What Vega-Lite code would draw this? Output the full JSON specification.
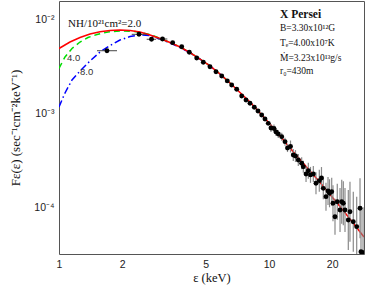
{
  "$schema": "https://vega.github.io/schema/vega-lite/v6.json",
  "width": 305,
  "height": 253,
  "autosize": {"type": "none"},
  "padding": {"left": 59, "top": 1, "right": 3, "bottom": 37},
  "background": "white",
  "config": {
    "view": {"stroke": "#555", "strokeWidth": 1},
    "axis": {"domain": false, "grid": false, "tickColor": "#555", "tickWidth": 1}
  },
  "datasets": {
    "red": [
      {"e": 1.0, "f": 0.00489}, {"e": 1.128, "f": 0.00573}, {"e": 1.259, "f": 0.0064}, {"e": 1.405, "f": 0.00698},
      {"e": 1.568, "f": 0.00736}, {"e": 1.749, "f": 0.0076}, {"e": 1.952, "f": 0.00769}, {"e": 2.179, "f": 0.0076},
      {"e": 2.43, "f": 0.00733}, {"e": 2.713, "f": 0.00681}, {"e": 3.027, "f": 0.00625}, {"e": 3.378, "f": 0.00566},
      {"e": 3.77, "f": 0.00507}, {"e": 4.206, "f": 0.00443}, {"e": 4.693, "f": 0.00378}, {"e": 5.236, "f": 0.00319},
      {"e": 5.843, "f": 0.00262}, {"e": 6.521, "f": 0.0021}, {"e": 7.275, "f": 0.001665}, {"e": 8.12, "f": 0.001319},
      {"e": 9.06, "f": 0.001007}, {"e": 10.11, "f": 0.000769}, {"e": 11.28, "f": 0.000573}, {"e": 12.59, "f": 0.000427},
      {"e": 14.05, "f": 0.000322}, {"e": 15.68, "f": 0.000243}, {"e": 17.5, "f": 0.0001835}, {"e": 19.52, "f": 0.0001368},
      {"e": 21.79, "f": 0.000102}, {"e": 24.3, "f": 0.0000751}, {"e": 28.34, "f": 0.0000483}
    ],
    "green": [
      {"e": 1.0, "f": 0.00301}, {"e": 1.068, "f": 0.00397}, {"e": 1.153, "f": 0.00489}, {"e": 1.259, "f": 0.00573},
      {"e": 1.374, "f": 0.0064}, {"e": 1.517, "f": 0.00689}, {"e": 1.711, "f": 0.00733}, {"e": 1.952, "f": 0.00751},
      {"e": 2.301, "f": 0.00742}, {"e": 2.713, "f": 0.00689}, {"e": 3.027, "f": 0.00625}, {"e": 3.378, "f": 0.00566},
      {"e": 3.77, "f": 0.00507}, {"e": 4.206, "f": 0.00443}, {"e": 4.693, "f": 0.00378}, {"e": 5.236, "f": 0.00319},
      {"e": 5.843, "f": 0.00262}, {"e": 6.521, "f": 0.0021}
    ],
    "blue": [
      {"e": 1.0, "f": 0.001167}, {"e": 1.068, "f": 0.001644}, {"e": 1.153, "f": 0.00226}, {"e": 1.259, "f": 0.00282},
      {"e": 1.405, "f": 0.0036}, {"e": 1.568, "f": 0.00449}, {"e": 1.749, "f": 0.00526}, {"e": 1.952, "f": 0.00602},
      {"e": 2.179, "f": 0.00656}, {"e": 2.43, "f": 0.00681}, {"e": 2.713, "f": 0.00672}, {"e": 3.027, "f": 0.00617},
      {"e": 3.378, "f": 0.0056}, {"e": 3.77, "f": 0.00501}, {"e": 4.206, "f": 0.0044}, {"e": 4.693, "f": 0.00376},
      {"e": 5.236, "f": 0.00318}, {"e": 5.843, "f": 0.00262}, {"e": 6.521, "f": 0.0021}
    ],
    "obs": [
      {"e": 1.692, "f": 0.00463}, {"e": 2.404, "f": 0.00692}, {"e": 2.758, "f": 0.00613}, {"e": 3.111, "f": 0.00617},
      {"e": 3.478, "f": 0.00564}, {"e": 3.84, "f": 0.00511}, {"e": 4.174, "f": 0.00446}, {"e": 4.526, "f": 0.00388},
      {"e": 4.866, "f": 0.00349}, {"e": 5.236, "f": 0.00313}, {"e": 5.593, "f": 0.00277}, {"e": 5.954, "f": 0.00249},
      {"e": 6.329, "f": 0.00221}, {"e": 6.643, "f": 0.002}, {"e": 7.018, "f": 0.0018}, {"e": 7.413, "f": 0.001528},
      {"e": 7.771, "f": 0.001385}, {"e": 8.12, "f": 0.001277}, {"e": 8.511, "f": 0.001158}, {"e": 8.862, "f": 0.001058},
      {"e": 9.23, "f": 0.000959}, {"e": 9.57, "f": 0.00087}, {"e": 9.92, "f": 0.000782},
      {"e": 10.22, "f": 0.000697, "lo": 0.000632, "hi": 0.000769},
      {"e": 10.56, "f": 0.000689, "lo": 0.000625, "hi": 0.00076},
      {"e": 10.8, "f": 0.000633, "lo": 0.000574, "hi": 0.000698},
      {"e": 11.07, "f": 0.000602, "lo": 0.000546, "hi": 0.000664},
      {"e": 11.5, "f": 0.000564, "lo": 0.000511, "hi": 0.000622},
      {"e": 11.92, "f": 0.000499, "lo": 0.000452, "hi": 0.00055},
      {"e": 12.25, "f": 0.000427, "lo": 0.000387, "hi": 0.000471},
      {"e": 12.66, "f": 0.000443, "lo": 0.000383, "hi": 0.000513},
      {"e": 13.05, "f": 0.00036, "lo": 0.000311, "hi": 0.000417},
      {"e": 13.37, "f": 0.000351, "lo": 0.000303, "hi": 0.000406},
      {"e": 13.79, "f": 0.000318, "lo": 0.000275, "hi": 0.000368},
      {"e": 14.31, "f": 0.000294, "lo": 0.000254, "hi": 0.00034},
      {"e": 14.57, "f": 0.00027, "lo": 0.000233, "hi": 0.000313},
      {"e": 15.01, "f": 0.000226, "lo": 0.000186, "hi": 0.000275},
      {"e": 15.39, "f": 0.000245, "lo": 0.000201, "hi": 0.000298},
      {"e": 15.76, "f": 0.000221, "lo": 0.000182, "hi": 0.000269},
      {"e": 16.26, "f": 0.000226, "lo": 0.000186, "hi": 0.000275},
      {"e": 16.74, "f": 0.00018, "lo": 0.0001375, "hi": 0.000236},
      {"e": 17.36, "f": 0.000192, "lo": 0.0001467, "hi": 0.000251},
      {"e": 17.78, "f": 0.000205, "lo": 0.0001566, "hi": 0.000268},
      {"e": 18.14, "f": 0.000159, "lo": 0.0001215, "hi": 0.000208},
      {"e": 18.68, "f": 0.0001297, "lo": 0.000092, "hi": 0.0001827},
      {"e": 19.1, "f": 0.000149, "lo": 0.0001057, "hi": 0.00021},
      {"e": 19.42, "f": 0.000141, "lo": 0.0001, "hi": 0.0001987},
      {"e": 19.89, "f": 0.0001466, "lo": 0.000104, "hi": 0.0002066},
      {"e": 20.17, "f": 0.0001103, "lo": 0.000071, "hi": 0.0001714},
      {"e": 20.62, "f": 0.0000794, "lo": 0.0000511, "hi": 0.0001234},
      {"e": 21.14, "f": 0.0001147, "lo": 0.0000738, "hi": 0.0001782},
      {"e": 21.79, "f": 0.0000936, "lo": 0.0000546, "hi": 0.0001604},
      {"e": 22.2, "f": 0.0001147, "lo": 0.0000669, "hi": 0.0001966},
      {"e": 22.59, "f": 0.0001103, "lo": 0.0000644, "hi": 0.0001891},
      {"e": 23.01, "f": 0.0000936, "lo": 0.0000546, "hi": 0.0001604},
      {"e": 23.86, "f": 0.0000733, "lo": 0.0000352, "hi": 0.0001528},
      {"e": 24.3, "f": 0.0000898, "lo": 0.0000431, "hi": 0.0001872},
      {"e": 25.2, "f": 0.0000703, "lo": 0.0000337, "hi": 0.0001466},
      {"e": 26.16, "f": 0.0000622, "lo": 0.0000298, "hi": 0.0001297},
      {"e": 27.13, "f": 0.0000976, "lo": 0.0000468, "hi": 0.0002035},
      {"e": 27.42, "f": 0.0000337, "lo": 0.00001, "hi": 0.0001007},
      {"e": 28.04, "f": 0.0000329, "lo": 0.00001, "hi": 0.0001}
    ],
    "xerr": [
      {"f": 0.00463, "elo": 1.517, "ehi": 1.889},
      {"f": 0.00692, "elo": 2.22, "ehi": 2.616},
      {"f": 0.00613, "elo": 2.616, "ehi": 2.9},
      {"f": 0.00617, "elo": 2.95, "ehi": 3.28}
    ],
    "notes": [
      {"e": 1.104, "f": 0.00828, "t": "NH/10²¹cm²=2.0", "g": "nh"},
      {"e": 1.092, "f": 0.0036, "t": "4.0", "g": "lab"},
      {"e": 1.259, "f": 0.002555, "t": "8.0", "g": "lab"},
      {"e": 11.28, "f": 0.01032, "t": "X Persei", "g": "head"},
      {"e": 11.28, "f": 0.00751, "t": "B=3.30x10¹²G", "g": "par"},
      {"e": 11.28, "f": 0.0052, "t": "Tₑ=4.00x10⁷K", "g": "par"},
      {"e": 11.28, "f": 0.0036, "t": "Ṁ=3.23x10¹³g/s", "g": "par"},
      {"e": 11.28, "f": 0.00262, "t": "r₀=430m", "g": "par"}
    ]
  },
  "resolve": {"axis": {"x": "independent", "y": "independent"}},
  "layer": [
    {
      "data": {"name": "green"},
      "mark": {"type": "line", "color": "#00dd00", "strokeWidth": 1.5, "strokeDash": [6, 4], "clip": true},
      "encoding": {
        "x": {
          "field": "e", "type": "quantitative",
          "scale": {"type": "log", "domain": [1, 28.34], "nice": false},
          "axis": {
            "orient": "bottom",
            "values": [1, 2, 3, 4, 5, 6, 7, 8, 9, 10, 20],
            "labelExpr": "indexof([1, 2, 5, 10, 20], datum.value) >= 0 ? '' + datum.value : ''",
            "labelFlush": false, "labelOverlap": false, "labelBound": false,
            "labelFont": "Liberation Sans", "labelFontSize": 10.5, "labelColor": "#222", "labelPadding": 5,
            "tickSize": 0,
            "title": "ε  (keV)", "titleFont": "Liberation Serif", "titleFontSize": 12.5, "titleFontWeight": "normal", "titleColor": "#111", "titlePadding": 2,
            "encode": {"ticks": {"update": {"y2": {"signal": "abs(log(datum.value)/LN10 - round(log(datum.value)/LN10)) < 0.001 ? -6 : -3"}}}}
          }
        },
        "y": {
          "field": "f", "type": "quantitative",
          "scale": {"type": "log", "domain": [0.00003185, 0.01565], "nice": false},
          "axis": {
            "orient": "left",
            "values": [0.00004, 0.00005, 0.00006, 0.00007, 0.00008, 0.00009, 0.0001, 0.0002, 0.0003, 0.0004, 0.0005, 0.0006, 0.0007, 0.0008, 0.0009, 0.001, 0.002, 0.003, 0.004, 0.005, 0.006, 0.007, 0.008, 0.009, 0.01],
            "labelExpr": "datum.value == 0.01 ? '10⁻²' : datum.value == 0.001 ? '10⁻³' : datum.value == 0.0001 ? '10⁻⁴' : ''",
            "labelOverlap": false, "labelBound": false,
            "labelFont": "Liberation Sans", "labelFontSize": 10.5, "labelColor": "#222", "labelPadding": 5,
            "tickSize": 0,
            "title": "Fε(ε)   (sec⁻¹cm⁻²keV⁻¹)", "titleFont": "Liberation Serif", "titleFontSize": 13, "titleFontWeight": "normal", "titleColor": "#111", "titlePadding": 11,
            "encode": {"ticks": {"update": {"x2": {"signal": "abs(log(datum.value)/LN10 - round(log(datum.value)/LN10)) < 0.001 ? 6 : 3"}}}}
          }
        }
      }
    },
    {
      "data": {"name": "blue"},
      "mark": {"type": "line", "color": "#0000ff", "strokeWidth": 1.5, "strokeDash": [7, 3, 1.5, 3], "clip": true},
      "encoding": {
        "x": {
          "field": "e", "type": "quantitative",
          "axis": {
            "orient": "top", "values": [1, 2, 3, 4, 5, 6, 7, 8, 9, 10, 20],
            "labels": false, "tickSize": 0, "title": null,
            "encode": {"ticks": {"update": {"y2": {"signal": "abs(log(datum.value)/LN10 - round(log(datum.value)/LN10)) < 0.001 ? 6 : 3"}}}}
          }
        },
        "y": {
          "field": "f", "type": "quantitative",
          "axis": {
            "orient": "right",
            "values": [0.00004, 0.00005, 0.00006, 0.00007, 0.00008, 0.00009, 0.0001, 0.0002, 0.0003, 0.0004, 0.0005, 0.0006, 0.0007, 0.0008, 0.0009, 0.001, 0.002, 0.003, 0.004, 0.005, 0.006, 0.007, 0.008, 0.009, 0.01],
            "labels": false, "tickSize": 0, "title": null,
            "encode": {"ticks": {"update": {"x2": {"signal": "abs(log(datum.value)/LN10 - round(log(datum.value)/LN10)) < 0.001 ? -6 : -3"}}}}
          }
        }
      }
    },
    {
      "data": {"name": "red"},
      "mark": {"type": "line", "color": "#ff0000", "strokeWidth": 1.5, "clip": true},
      "encoding": {
        "x": {"field": "e", "type": "quantitative", "axis": null},
        "y": {"field": "f", "type": "quantitative", "axis": null}
      }
    },
    {
      "data": {"name": "obs"},
      "mark": {"type": "rule", "color": "#8a8a8a", "strokeWidth": 1.2, "clip": true},
      "encoding": {
        "x": {"field": "e", "type": "quantitative", "axis": null},
        "y": {"field": "lo", "type": "quantitative", "axis": null},
        "y2": {"field": "hi"}
      }
    },
    {
      "data": {"name": "xerr"},
      "mark": {"type": "rule", "color": "#444", "strokeWidth": 1, "clip": true},
      "encoding": {
        "x": {"field": "elo", "type": "quantitative", "axis": null},
        "x2": {"field": "ehi"},
        "y": {"field": "f", "type": "quantitative", "axis": null}
      }
    },
    {
      "data": {"name": "obs"},
      "mark": {"type": "circle", "color": "#000", "size": 24, "opacity": 1, "clip": true},
      "encoding": {
        "x": {"field": "e", "type": "quantitative", "axis": null},
        "y": {"field": "f", "type": "quantitative", "axis": null}
      }
    },
    {
      "data": {"name": "notes"},
      "transform": [{"filter": "datum.g == 'nh'"}],
      "mark": {"type": "text", "align": "left", "baseline": "alphabetic", "font": "Liberation Serif", "fontSize": 11, "color": "#111"},
      "encoding": {
        "x": {"field": "e", "type": "quantitative", "axis": null},
        "y": {"field": "f", "type": "quantitative", "axis": null},
        "text": {"field": "t"}
      }
    },
    {
      "data": {"name": "notes"},
      "transform": [{"filter": "datum.g == 'lab'"}],
      "mark": {"type": "text", "align": "left", "baseline": "alphabetic", "font": "Liberation Sans", "fontSize": 9.5, "color": "#333"},
      "encoding": {
        "x": {"field": "e", "type": "quantitative", "axis": null},
        "y": {"field": "f", "type": "quantitative", "axis": null},
        "text": {"field": "t"}
      }
    },
    {
      "data": {"name": "notes"},
      "transform": [{"filter": "datum.g == 'head'"}],
      "mark": {"type": "text", "align": "left", "baseline": "alphabetic", "font": "Liberation Serif", "fontSize": 11.5, "fontWeight": "bold", "color": "#111"},
      "encoding": {
        "x": {"field": "e", "type": "quantitative", "axis": null},
        "y": {"field": "f", "type": "quantitative", "axis": null},
        "text": {"field": "t"}
      }
    },
    {
      "data": {"name": "notes"},
      "transform": [{"filter": "datum.g == 'par'"}],
      "mark": {"type": "text", "align": "left", "baseline": "alphabetic", "font": "Liberation Serif", "fontSize": 9.5, "color": "#111"},
      "encoding": {
        "x": {"field": "e", "type": "quantitative", "axis": null},
        "y": {"field": "f", "type": "quantitative", "axis": null},
        "text": {"field": "t"}
      }
    }
  ]
}
